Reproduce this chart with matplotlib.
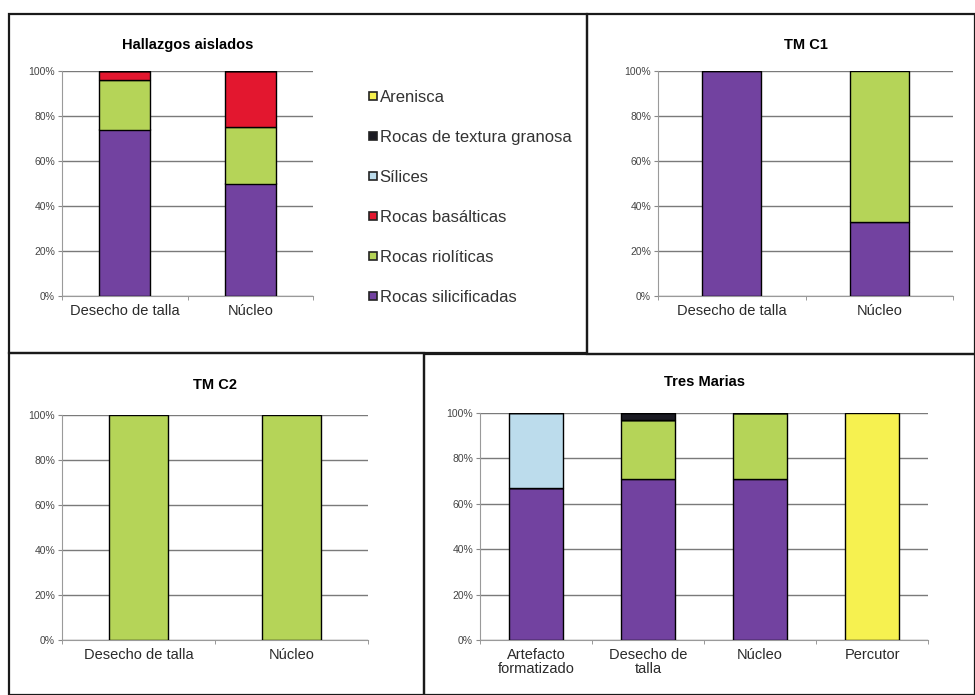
import matplotlib.pyplot as plt
from matplotlib.patches import Rectangle
from matplotlib.lines import Line2D
import numpy as np

plt.rcParams['font.family'] = ['Liberation Sans', 'DejaVu Sans']

W, H = 975, 695

# Tipos de roca (orden de apilado, de abajo hacia arriba)
rocas = ['Rocas silicificadas', 'Rocas riolíticas', 'Rocas basálticas',
         'Sílices', 'Rocas de textura granosa', 'Arenisca']
colores = ['#7242a0', '#b5d458', '#e3172f', '#bcdcec', '#1c1c24', '#f6f150']

# Hallazgos aislados
cat_ha = ['Desecho de talla', 'Núcleo']
ha_silic = [74, 50]
ha_riol = [22, 25]
ha_basal = [4, 25]
ha_silices = [0, 0]
ha_granosa = [0, 0]
ha_arenisca = [0, 0]

# TM C1
cat_c1 = ['Desecho de talla', 'Núcleo']
c1_silic = [100, 33]
c1_riol = [0, 67]

# TM C2
cat_c2 = ['Desecho de talla', 'Núcleo']
c2_riol = [100, 100]

# Tres Marias
cat_tm = ['Artefacto\nformatizado', 'Desecho de\ntalla', 'Núcleo', 'Percutor']
tm_silic = [67, 71, 71, 0]
tm_riol = [0, 26, 29, 0]
tm_basal = [0, 0, 0, 0]
tm_silices = [33, 0, 0, 0]
tm_granosa = [0, 3, 0, 0]
tm_arenisca = [0, 0, 0, 100]


def caja(x0, y0, x1, y1):
    """convierte pixeles (origen arriba-izq) a coords de figura"""
    return [x0 / W, 1 - y1 / H, (x1 - x0) / W, (y1 - y0) / H]


def dibujar_panel(fig, pos, categorias, series, titulo, ancho, ytit):
    ax = fig.add_axes(caja(*pos))
    x = np.arange(len(categorias))
    base = np.zeros(len(categorias))
    for vals, col, nom in zip(series, colores, rocas):
        vals = np.array(vals, dtype=float)
        ax.bar(x, vals, ancho, bottom=base, color=col, edgecolor='black',
               linewidth=1.0, label=nom, zorder=3)
        base += vals
    ax.set_ylim(0, 100)
    ax.set_xlim(-0.5, len(categorias) - 0.5)
    ax.set_yticks(np.arange(0, 101, 20))
    ax.set_yticklabels([f'{v}%' for v in range(0, 101, 20)], fontsize=7.5, color='#444444')
    ax.set_xticks(x)
    ax.set_xticklabels(categorias, fontsize=10.5, color='#2a2a2a', linespacing=1.0)
    ax.set_xticks(np.arange(-0.5, len(categorias), 1), minor=True)
    ax.tick_params(axis='x', which='major', length=0, pad=6)
    ax.tick_params(axis='x', which='minor', length=3, color='#888888')
    ax.tick_params(axis='y', length=3, color='#888888', pad=2)
    ax.grid(axis='y', color='#7a7a7a', linewidth=1.0, zorder=0)
    for s in ['top', 'right']:
        ax.spines[s].set_visible(False)
    ax.spines['left'].set_color('#9a9a9a')
    ax.spines['bottom'].set_color('#9a9a9a')
    fig.text((pos[0] + pos[2]) / 2 / W, 1 - ytit / H, titulo, ha='center', va='center',
             fontsize=10.5, fontweight='bold')
    return ax


fig = plt.figure(figsize=(W / 100, H / 100), dpi=100)

dibujar_panel(fig, (62, 71, 313, 296), cat_ha,
              [ha_silic, ha_riol, ha_basal, ha_silices, ha_granosa, ha_arenisca],
              'Hallazgos aislados', 0.41, 45)
dibujar_panel(fig, (658, 71, 953, 296), cat_c1, [c1_silic, c1_riol],
              'TM C1', 0.40, 45)
dibujar_panel(fig, (62, 415, 368, 640), cat_c2, [[0, 0], c2_riol],
              'TM C2', 0.39, 385)
dibujar_panel(fig, (480, 413, 928, 640), cat_tm,
              [tm_silic, tm_riol, tm_basal, tm_silices, tm_granosa, tm_arenisca],
              'Tres Marias', 0.48, 382)

# leyenda (orden inverso)
handles = [Line2D([], [], marker='s', linestyle='none', markersize=6,
                  markerfacecolor=c, markeredgecolor='#222222', markeredgewidth=1.2)
           for c in colores][::-1]
fig.legend(handles, rocas[::-1], loc='upper left',
           bbox_to_anchor=(362 / W, 1 - 83 / H), frameon=False, fontsize=12,
           labelcolor='#333333',
           handlelength=0.5, handletextpad=0.15, labelspacing=1.5, borderaxespad=0)

# marcos de los paneles
for x0, y0, x1, y1 in [(9, 14, 587, 353), (587, 14, 975, 354),
                       (9, 353, 424, 695), (424, 354, 975, 695)]:
    fig.add_artist(Rectangle((x0 / W, 1 - y1 / H), (x1 - x0) / W, (y1 - y0) / H,
                             transform=fig.transFigure, fill=False,
                             edgecolor='#1a1a1a', linewidth=1.6))

fig.savefig('out.png', dpi=100)
